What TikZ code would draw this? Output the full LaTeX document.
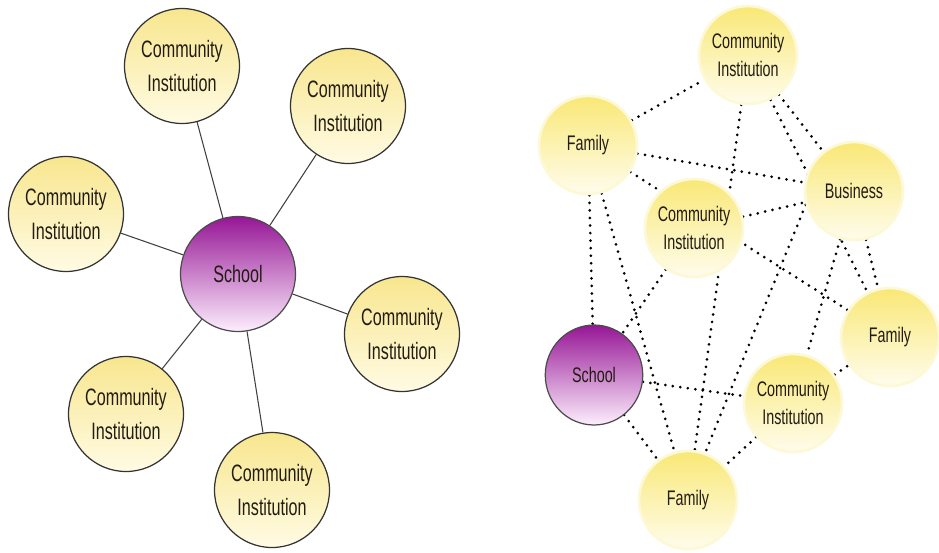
\documentclass[tikz,border=0pt]{standalone}
\usepackage{fontspec}
\setmainfont{Liberation Sans}[FakeStretch=0.68]
\usetikzlibrary{shapes,positioning,calc}
\pgfdeclarelayer{background}
\pgfsetlayers{background,main}

\definecolor{ciyellow}{RGB}{248,230,142}
\definecolor{cipale}{RGB}{255,251,228}
\definecolor{glowyellow}{RGB}{249,232,118}
\definecolor{glowpale}{RGB}{255,252,236}
\definecolor{schoolpurple}{RGB}{150,22,150}
\definecolor{schoolpale}{RGB}{253,238,253}
\definecolor{txt}{RGB}{34,28,18}

\begin{document}
\begin{tikzpicture}[x=0.02cm, y=-0.02cm,
    inst/.style={circle, draw=black!80, line width=0.7pt, top color=ciyellow, bottom color=cipale,
        minimum size=2.3cm, inner sep=0pt, align=center, text=txt, font=\fontsize{13.5}{19.5}\selectfont},
    hub/.style={inst, top color=schoolpurple, bottom color=schoolpale, draw=black!70},
    glow/.style={circle, draw=glowyellow!30, line width=1.5pt, top color=glowyellow, bottom color=glowpale,
        minimum size=1.96cm, inner sep=0pt, align=center, text=txt, font=\fontsize{12}{16}\selectfont},
    hubsmall/.style={ellipse, draw=black!70, line width=0.7pt, top color=schoolpurple, bottom color=schoolpale,
        minimum width=1.95cm, minimum height=2cm, inner sep=0pt, text=txt, font=\fontsize{12}{16}\selectfont},
    link/.style={draw=black!75, line width=0.6pt},
    dotlink/.style={draw=black, line width=1.7pt, line cap=round, dash pattern=on 0pt off 4.3pt}]
    \useasboundingbox (0,0) rectangle (939,552);

    % left: school in the middle
    \node[hub] (school) at (238,274) {School};
    \node[inst] (ciA) at (182,66) {Community\\Institution};
    \node[inst] (ciB) at (348,106) {Community\\Institution};
    \node[inst] (ciC) at (66,214) {Community\\Institution};
    \node[inst] (ciD) at (402,334) {Community\\Institution};
    \node[inst] (ciE) at (126,414) {Community\\Institution};
    \node[inst] (ciF) at (272,490) {Community\\Institution};

    % right: everyone linked
    \node[glow] (ci1) at (748,55) {Community\\Institution};
    \node[glow] (fam1) at (588,145) {Family};
    \node[glow] (busi) at (854,191) {Business};
    \node[glow] (ci2) at (694,228) {Community\\Institution};
    \node[glow] (fam2) at (890,337) {Family};
    \node[hubsmall] (school2) at (594,375) {School};
    \node[glow] (ci3) at (793,403) {Community\\Institution};
    \node[glow] (fam3) at (688,500) {Family};

    \begin{pgfonlayer}{background}
        \fill[white] (0,0) rectangle (939,552);
        % spokes
        \draw[link] (school) -- (ciA);
        \draw[link] (school) -- (ciB);
        \draw[link] (school) -- (ciC);
        \draw[link] (school) -- (ciD);
        \draw[link] (school) -- (ciE);
        \draw[link] (school) -- (ciF);
        % web
        \draw[dotlink] (fam1) -- (ci1);
        \draw[dotlink] (ci1) -- (busi);
        \draw[dotlink] (fam1) -- (busi);
        \draw[dotlink] (ci1) -- (fam3);
        \draw[dotlink] (ci1) -- (fam2);
        \draw[dotlink] (fam1) -- (fam2);
        \draw[dotlink] (fam1) -- (school2);
        \draw[dotlink] (fam1) -- (fam3);
        \draw[dotlink] (ci2) -- (busi);
        \draw[dotlink] (ci2) -- (school2);
        \draw[dotlink] (busi) -- (fam2);
        \draw[dotlink] (busi.196) -- (fam3.70);
        \draw[dotlink] (busi) -- (ci3);
        \draw[dotlink] (school2) -- (ci3);
        \draw[dotlink] (school2) -- (fam3);
        \draw[dotlink] (ci3) -- (fam3);
        \draw[dotlink] (ci3) -- (fam2);
    \end{pgfonlayer}
\end{tikzpicture}
\end{document}
